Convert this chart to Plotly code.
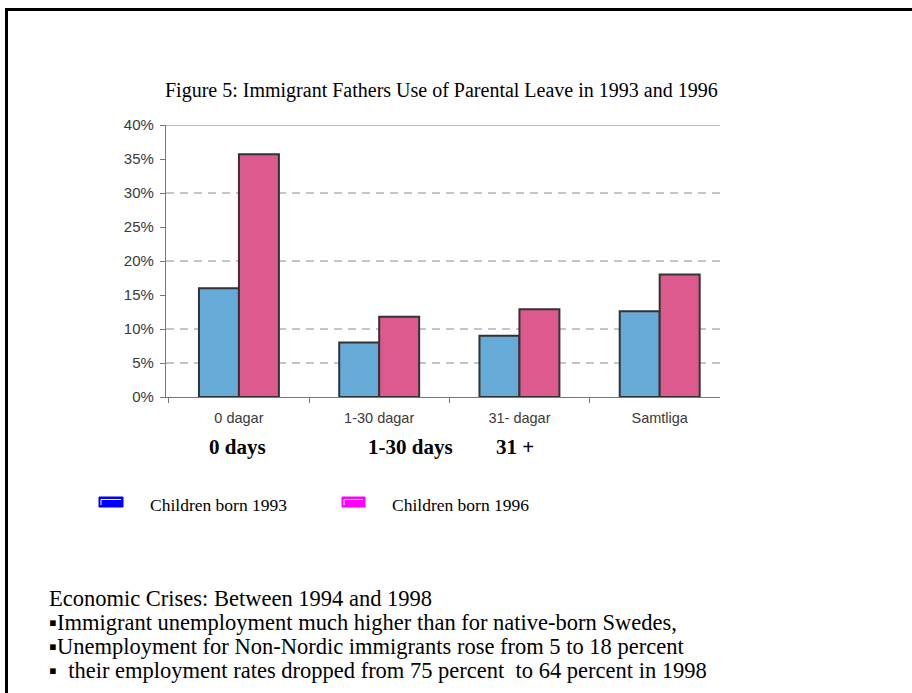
import plotly.graph_objects as go

# ---- data ----
categories = ["0 dagar", "1-30 dagar", "31- dagar", "Samtliga"]
children_1993 = [16.0, 8.0, 9.0, 12.6]
children_1996 = [35.7, 11.8, 12.9, 18.0]
y_tickvals = [0, 5, 10, 15, 20, 25, 30, 35, 40]
y_ticktext = ["0%", "5%", "10%", "15%", "20%", "25%", "30%", "35%", "40%"]
dashed_grid = [5, 10, 20, 30]
english_labels = ["0 days", "1-30 days", "31 +"]
english_label_px = [237, 410, 515]
legend_names = ["Children born 1993", "Children born 1996"]
legend_colors = ["#0000ff", "#ff00ff"]
title_text = "Figure 5: Immigrant Fathers Use of Parental Leave in 1993 and 1996"
body_lines = [
    "Economic Crises: Between 1994 and 1998",
    "\u25aaImmigrant unemployment much higher than for native-born Swedes,",
    "\u25aaUnemployment for Non-Nordic immigrants rose from 5 to 18 percent",
    "\u25aa  their employment rates dropped from 75 percent  to 64 percent in 1998",
]

W, H = 912, 693
L, R, T, B = 166, 720, 125, 397


def px(x):
    return (x - L) / (R - L)


def py(y):
    return (B - y) / (B - T)


fig = go.Figure()
fig.add_trace(go.Bar(x=categories, y=children_1993, name=legend_names[0],
                     marker=dict(color="#66aad8", line=dict(color="#333333", width=2))))
fig.add_trace(go.Bar(x=categories, y=children_1996, name=legend_names[1],
                     marker=dict(color="#dc5a8e", line=dict(color="#333333", width=2))))

shapes = []
for g in dashed_grid:
    shapes.append(dict(type="line", xref="paper", yref="y", x0=0, x1=1, y0=g, y1=g,
                       line=dict(color="#8a8a8a", width=1, dash="8px,6px"), layer="below"))
shapes.append(dict(type="line", xref="paper", yref="y", x0=0, x1=1, y0=40, y1=40,
                   line=dict(color="#777777", width=1.2), layer="below"))
# slide frame
shapes.append(dict(type="line", xref="paper", yref="paper", x0=px(6.5), x1=px(6.5),
                   y0=py(8), y1=py(H + 5), line=dict(color="black", width=3)))
shapes.append(dict(type="line", xref="paper", yref="paper", x0=px(5), x1=px(W + 5),
                   y0=py(9.5), y1=py(9.5), line=dict(color="black", width=3)))
# legend swatches
for (x0, x1), c in zip([(99, 123), (342, 365)], legend_colors):
    shapes.append(dict(type="rect", xref="paper", yref="paper", x0=px(x0), x1=px(x1),
                       y0=py(507), y1=py(497), fillcolor=c, line=dict(color=c, width=1)))
    shapes.append(dict(type="line", xref="paper", yref="paper", x0=px(x0 + 2), x1=px(x1 - 2),
                       y0=py(499.5), y1=py(499.5), line=dict(color="white", width=1)))
    shapes.append(dict(type="line", xref="paper", yref="paper", x0=px(x0 + 2), x1=px(x0 + 2),
                       y0=py(499.5), y1=py(505), line=dict(color="white", width=1)))

annotations = []
annotations.append(dict(text=title_text, xref="paper", yref="paper", x=px(441), y=py(90),
                        xanchor="center", yanchor="middle", showarrow=False,
                        font=dict(family="Liberation Serif", size=20, color="black")))
for t, xp in zip(english_labels, english_label_px):
    annotations.append(dict(text="<b>" + t + "</b>", xref="paper", yref="paper", x=px(xp), y=py(447),
                            xanchor="center", yanchor="middle", showarrow=False,
                            font=dict(family="Liberation Serif", size=21, color="black")))
for t, xp in zip(legend_names, [148, 390]):
    annotations.append(dict(text=t, xref="paper", yref="paper", x=px(xp), y=py(505),
                            xanchor="left", yanchor="middle", showarrow=False,
                            font=dict(family="Liberation Serif", size=17.5, color="black")))
for i, t in enumerate(body_lines):
    annotations.append(dict(text=t, xref="paper", yref="paper", x=px(47), y=py(598 + 24 * i),
                            xanchor="left", yanchor="middle", showarrow=False,
                            font=dict(family="Liberation Serif", size=22.5, color="black")))

fig.update_layout(
    width=W, height=H,
    margin=dict(l=L, r=W - R, t=T, b=H - B, pad=0),
    paper_bgcolor="white", plot_bgcolor="white",
    barmode="group", bargap=0.43, bargroupgap=0,
    showlegend=False,
    shapes=shapes, annotations=annotations,
    font=dict(family="Liberation Sans", color="#444444"),
)
fig.update_yaxes(range=[0, 40], tickvals=y_tickvals, ticktext=y_ticktext,
                 showgrid=False, zeroline=False, showline=True, linecolor="#777777", linewidth=1.2,
                 ticks="outside", ticklen=5, tickcolor="#777777", ticklabelstandoff=3,
                 tickfont=dict(family="Liberation Sans", size=15, color="#3a3a3a"))
fig.update_xaxes(range=[-0.52, 3.43], showgrid=False, showline=True, linecolor="#777777", linewidth=1.2,
                 ticks="outside", ticklen=5, tickcolor="#777777", tickson="boundaries",
                 ticklabelstandoff=7,
                 tickfont=dict(family="Liberation Sans", size=14.5, color="#3a3a3a"))

fig.write_html("out.html")
